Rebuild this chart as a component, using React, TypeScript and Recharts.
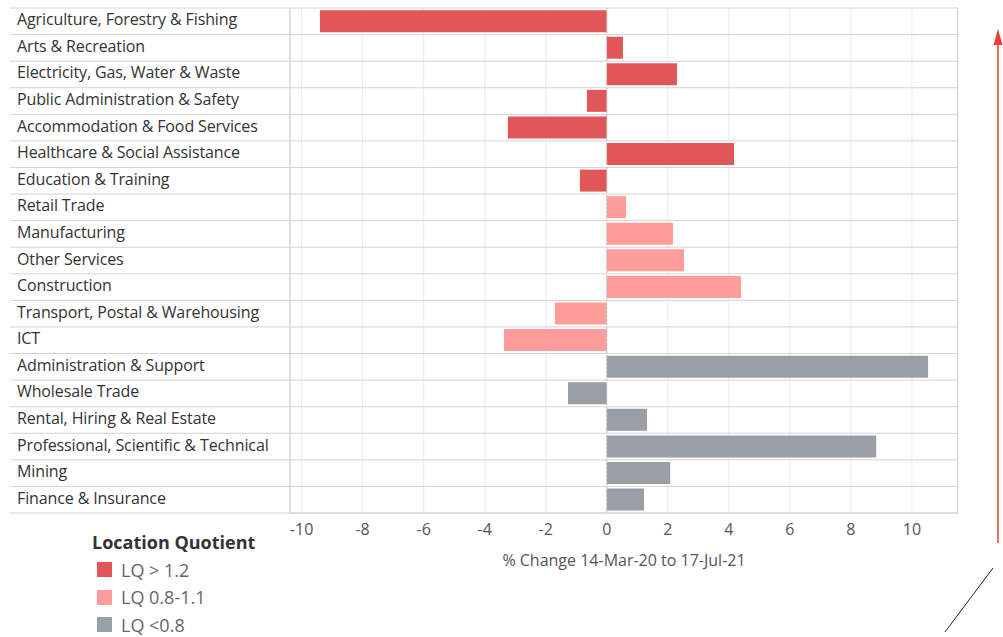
import React from 'react';
import { BarChart, Bar, XAxis, YAxis, CartesianGrid, Cell, ReferenceLine } from 'recharts';

const industries = [
  'Agriculture, Forestry & Fishing',
  'Arts & Recreation',
  'Electricity, Gas, Water & Waste',
  'Public Administration & Safety',
  'Accommodation & Food Services',
  'Healthcare & Social Assistance',
  'Education & Training',
  'Retail Trade',
  'Manufacturing',
  'Other Services',
  'Construction',
  'Transport, Postal & Warehousing',
  'ICT',
  'Administration & Support',
  'Wholesale Trade',
  'Rental, Hiring & Real Estate',
  'Professional, Scientific & Technical',
  'Mining',
  'Finance & Insurance',
];

const pctChange = [
  -9.4, 0.53, 2.3, -0.65, -3.24, 4.17, -0.88, 0.63, 2.17, 2.53, 4.4, -1.7, -3.37, 10.53, -1.27, 1.32, 8.83,
  2.08, 1.22,
];

// 0 = LQ > 1.2, 1 = LQ 0.8-1.1, 2 = LQ < 0.8
const lqGroup = [0, 0, 0, 0, 0, 0, 0, 1, 1, 1, 1, 1, 1, 2, 2, 2, 2, 2, 2];

const groupLabels = ['LQ > 1.2', 'LQ 0.8-1.1', 'LQ <0.8'];
const groupColors = ['#E15759', '#FF9D9A', '#9A9EA5'];

const xTicks = [-10, -8, -6, -4, -2, 0, 2, 4, 6, 8, 10];

const data = industries.map((name, i) => ({ name, value: pctChange[i], group: lqGroup[i] }));

const FONT = '"Open Sans", "Noto Sans", sans-serif';

const RowTick = (props: any) => {
  const { y, payload, index } = props;
  const step = 505.4 / industries.length;
  const lineY = y + step / 2;
  return (
    <g>
      {index === 0 && <line x1={10} x2={957.7} y1={y - step / 2} y2={y - step / 2} stroke="#d4d4d4" strokeWidth={1} />}
      <line x1={10} x2={957.7} y1={lineY} y2={lineY} stroke="#d4d4d4" strokeWidth={1} />
      <text x={17} y={y} dy={4} fontSize={16} fill="#333" fontFamily={FONT} textAnchor="start" letterSpacing={-0.12}>
        {payload.value}
      </text>
    </g>
  );
};

export default function App() {
  return (
    <div style={{ position: 'absolute', left: 0, top: 0, width: 1003, height: 637, background: '#fff' }}>
      <BarChart
        width={1003}
        height={637}
        data={data}
        layout="vertical"
        margin={{ top: 8, right: 45, bottom: 94, left: 10 }}
        barCategoryGap="8%"
      >
        <CartesianGrid horizontal={false} vertical stroke="#ececec" />
        <XAxis
          type="number"
          domain={[-10.38, 11.51]}
          ticks={xTicks}
          allowDataOverflow
          height={30}
          tickLine={false}
          axisLine={{ stroke: '#d4d4d4' }}
          tick={{ fontSize: 16, fill: '#555', fontFamily: FONT }}
          tickMargin={5}
          label={{
            value: '% Change 14-Mar-20 to 17-Jul-21',
            position: 'bottom',
            offset: 12,
            fontSize: 16,
            fill: '#555',
            fontFamily: FONT,
          }}
        />
        <YAxis
          type="category"
          dataKey="name"
          width={280}
          tickLine={false}
          axisLine={{ stroke: '#e0e0e0', strokeWidth: 2 }}
          tick={<RowTick />}
          interval={0}
        />
        <Bar dataKey="value" isAnimationActive={false}>
          {data.map((d, i) => (
            <Cell key={i} fill={groupColors[d.group]} />
          ))}
        </Bar>
        <ReferenceLine x={0} stroke="#bbb" strokeDasharray="2 2" />
      </BarChart>

      {/* right border of the plot */}
      <div style={{ position: 'absolute', left: 957, top: 8, width: 1, height: 506, background: '#d4d4d4' }} />

      {/* legend */}
      <div style={{ position: 'absolute', left: 92, top: 530, fontFamily: FONT, color: '#666' }}>
        <div style={{ fontSize: 18, fontWeight: 700, color: '#333', marginBottom: 2 }}>Location Quotient</div>
        {groupLabels.map((label, i) => (
          <div key={label} style={{ display: 'flex', alignItems: 'center', height: 27.5 }}>
            <span style={{ width: 15, height: 15, background: groupColors[i], marginLeft: 5, marginRight: 9 }} />
            <span style={{ fontSize: 18 }}>{label}</span>
          </div>
        ))}
      </div>

      {/* decorations */}
      <svg style={{ position: 'absolute', left: 0, top: 0 }} width={1003} height={637}>
        <line x1={998} y1={543} x2={998} y2={40} stroke="#EE3B2E" strokeWidth={1.5} />
        <polygon points="998,29 993.5,45 1002.5,45" fill="#EE3B2E" />
        <line x1={945} y1={632} x2={993} y2={568} stroke="#222" strokeWidth={1} />
      </svg>
    </div>
  );
}
